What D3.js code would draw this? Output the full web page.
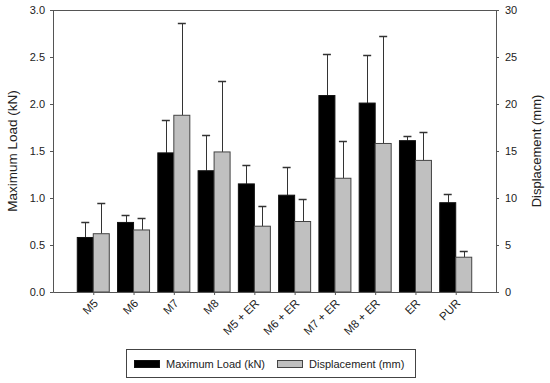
<!DOCTYPE html>
<html>
<head>
<meta charset="utf-8">
<script src="https://cdn.jsdelivr.net/npm/d3@7"></script>
<style>
  body { margin: 0; background: #fff; }
  svg text { font-family: Arial, "Liberation Sans", sans-serif; fill: #222; }
</style>
</head>
<body>
<svg id="chart"></svg>
<script>
(function (d3) {
    'use strict';

    var categories = ['M5', 'M6', 'M7', 'M8', 'M5 + ER', 'M6 + ER', 'M7 + ER', 'M8 + ER', 'ER', 'PUR'];
    var loadMean = [0.58, 0.74, 1.48, 1.29, 1.15, 1.03, 2.09, 2.01, 1.61, 0.95];
    var loadErr  = [0.16, 0.08, 0.35, 0.38, 0.20, 0.30, 0.44, 0.51, 0.05, 0.09];
    var dispMean = [6.2, 6.6, 18.8, 14.9, 7.0, 7.5, 12.1, 15.8, 14.0, 3.7];
    var dispErr  = [3.3, 1.3, 9.8, 7.6, 2.2, 2.4, 4.0, 11.4, 3.0, 0.7];
    var loadTicks = [0, 0.5, 1.0, 1.5, 2.0, 2.5, 3.0];
    var dispTicks = [0, 5, 10, 15, 20, 25, 30];

    var width = 550,
        height = 383,
        margin = { top: 10, right: 54, bottom: 91, left: 53 };

    var x = d3.scalePoint().domain(categories).range([margin.left, width - margin.right]).padding(1),
        yL = d3.scaleLinear().domain([0, 3]).range([height - margin.bottom, margin.top]),
        yR = d3.scaleLinear().domain([0, 30]).range([height - margin.bottom, margin.top]);

    var barW = 16, capW = 8;
    var axisColor = '#555';

    var svg = d3.select('#chart')
        .attr('width', width)
        .attr('height', height);

    // top frame line
    svg.append('line')
        .attr('x1', margin.left).attr('x2', width - margin.right)
        .attr('y1', margin.top + 0.5).attr('y2', margin.top + 0.5)
        .attr('stroke', axisColor);

    var loadData = categories.map(function (c, i) { return { c: c, v: loadMean[i], e: loadErr[i] }; });
    var dispData = categories.map(function (c, i) { return { c: c, v: dispMean[i], e: dispErr[i] }; });

    // error bars (upper only)
    function errorBars(data, scale, off, cls) {
        var g = svg.append('g').attr('class', cls).attr('stroke', '#333').attr('stroke-width', 1);
        g.selectAll('line.v').data(data).enter().append('line')
            .attr('class', 'v')
            .attr('x1', function (d) { return Math.round(x(d.c) + off) + 0.5; })
            .attr('x2', function (d) { return Math.round(x(d.c) + off) + 0.5; })
            .attr('y1', function (d) { return scale(d.v); })
            .attr('y2', function (d) { return Math.round(scale(d.v + d.e)) + 0.5; });
        g.selectAll('line.cap').data(data).enter().append('line')
            .attr('class', 'cap')
            .attr('x1', function (d) { return x(d.c) + off - capW / 2; })
            .attr('x2', function (d) { return x(d.c) + off + capW / 2; })
            .attr('y1', function (d) { return Math.round(scale(d.v + d.e)) + 0.5; })
            .attr('y2', function (d) { return Math.round(scale(d.v + d.e)) + 0.5; })
            .attr('stroke-width', 1.5);
    }
    errorBars(loadData, yL, -barW / 2, 'err-load');
    errorBars(dispData, yR, barW / 2, 'err-disp');

    svg.append('g').selectAll('rect')
        .data(loadData).enter().append('rect')
        .attr('x', function (d) { return x(d.c) - barW; })
        .attr('y', function (d) { return yL(d.v); })
        .attr('width', barW)
        .attr('height', function (d) { return yL(0) - yL(d.v); })
        .attr('fill', '#000')
        .attr('stroke', '#111');

    svg.append('g').selectAll('rect')
        .data(dispData).enter().append('rect')
        .attr('x', function (d) { return x(d.c); })
        .attr('y', function (d) { return yR(d.v); })
        .attr('width', barW)
        .attr('height', function (d) { return yR(0) - yR(d.v); })
        .attr('fill', '#c0c0c0')
        .attr('stroke', '#444');

    // axes
    var axL = svg.append('g')
        .attr('transform', 'translate(' + margin.left + ',0)')
        .call(d3.axisLeft(yL).tickValues(loadTicks).tickFormat(d3.format('.1f')).tickSize(3).tickPadding(5));
    var axR = svg.append('g')
        .attr('transform', 'translate(' + (width - margin.right) + ',0)')
        .call(d3.axisRight(yR).tickValues(dispTicks).tickSize(3).tickPadding(6));
    var axB = svg.append('g')
        .attr('transform', 'translate(0,' + (height - margin.bottom) + ')')
        .call(d3.axisBottom(x).tickSize(3).tickSizeOuter(0));

    [axL, axR, axB].forEach(function (a) {
        a.selectAll('path, line').attr('stroke', axisColor);
        a.selectAll('text').style('font-size', '11px').attr('fill', '#222');
    });

    axB.selectAll('text')
        .style('font-size', '11.5px')
        .attr('text-anchor', 'end')
        .attr('dy', null)
        .attr('y', 0)
        .attr('transform', 'translate(5,12) rotate(-45)');

    // axis titles
    svg.append('text')
        .attr('transform', 'translate(17,151) rotate(-90)')
        .attr('text-anchor', 'middle')
        .style('font-size', '13.5px')
        .text('Maximum Load (kN)');

    svg.append('text')
        .attr('transform', 'translate(541,151) rotate(-90)')
        .attr('text-anchor', 'middle')
        .style('font-size', '13px')
        .text('Displacement (mm)');

    // legend
    var legend = svg.append('g').attr('transform', 'translate(126,349)');
    legend.append('rect')
        .attr('x', 0.5).attr('y', 0.5)
        .attr('width', 289).attr('height', 28)
        .attr('fill', 'none').attr('stroke', '#444');

    var items = [
        { label: 'Maximum Load (kN)', fill: '#000', stroke: '#111', x: 8 },
        { label: 'Displacement (mm)', fill: '#c0c0c0', stroke: '#444', x: 151 }
    ];
    var li = legend.selectAll('.legend-item').data(items).enter().append('g')
        .attr('transform', function (d) { return 'translate(' + d.x + ',0)'; });
    li.append('rect')
        .attr('x', 0.5).attr('y', 11.5)
        .attr('width', 25).attr('height', 7)
        .attr('fill', function (d) { return d.fill; })
        .attr('stroke', function (d) { return d.stroke; });
    li.append('text')
        .attr('x', 32).attr('y', 19)
        .style('font-size', '11px')
        .text(function (d) { return d.label; });

})(window.d3);
</script>
</body>
</html>
